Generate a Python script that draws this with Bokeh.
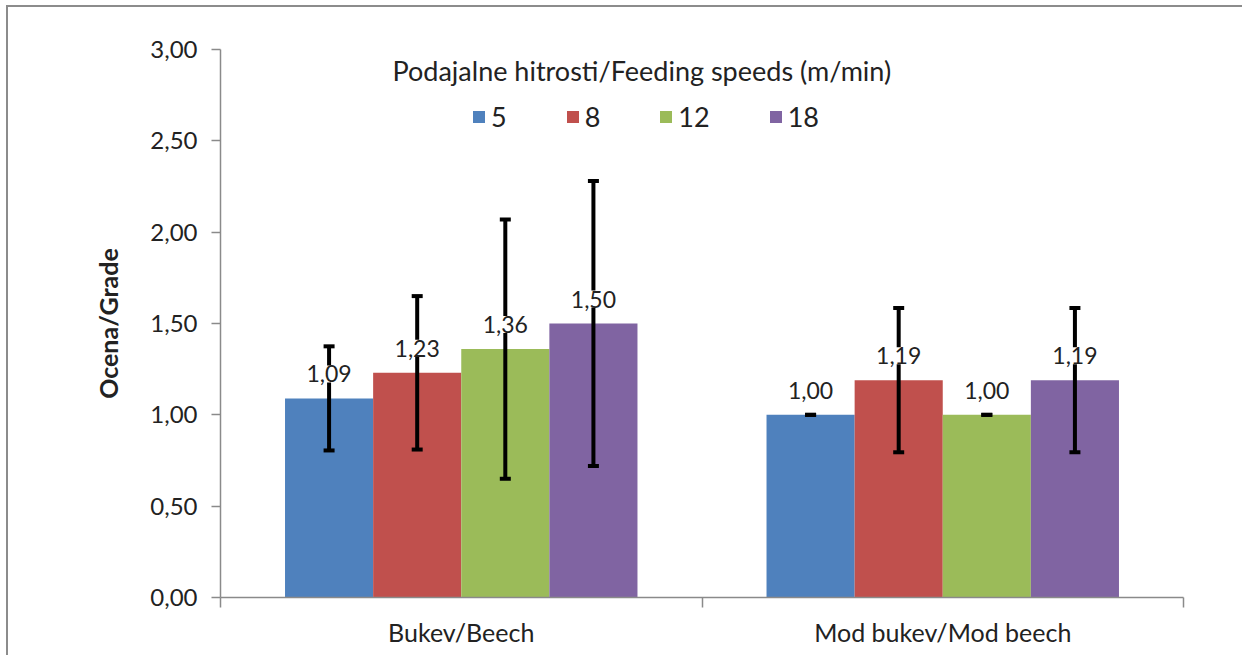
from bokeh.plotting import figure
from bokeh.models import (ColumnDataSource, Whisker, TeeHead, LabelSet, Label, Legend, LegendItem,
                          FixedTicker, CustomJSTickFormatter, Range1d, LinearAxis)
from bokeh.core.properties import value
from bokeh.embed import file_html
from bokeh.resources import INLINE

# ---- data ----
categories = ["Bukev/Beech", "Mod bukev/Mod beech"]
speeds = ["5", "8", "12", "18"]
mean_5 = [1.09, 1.00]
mean_8 = [1.23, 1.19]
mean_12 = [1.36, 1.00]
mean_18 = [1.50, 1.19]
sd_5 = [0.285, 0.0]
sd_8 = [0.42, 0.395]
sd_12 = [0.71, 0.0]
sd_18 = [0.78, 0.395]
colors = ["#4F81BD", "#C0504D", "#9BBB59", "#8064A2"]
y_ticks = [0.0, 0.5, 1.0, 1.5, 2.0, 2.5, 3.0]
legend_title = "Podajalne hitrosti/Feeding speeds (m/min)"
y_label = "Ocena/Grade"

means = [mean_5, mean_8, mean_12, mean_18]
sds = [sd_5, sd_8, sd_12, sd_18]

FONT = "Lato"
TXT = "#222222"
AX = "#8a8a8a"

n_cat = len(categories)
centers = [i + 0.5 for i in range(n_cat)]
bar_w = 0.183
n_ser = len(speeds)

p = figure(width=1236, height=650, output_backend="svg", toolbar_location=None,
           x_range=Range1d(0, n_cat), y_range=Range1d(0, 3),
           min_border_left=212, min_border_right=61, min_border_top=42, min_border_bottom=60,
           x_axis_type=None, y_axis_type=None)
p.xgrid.visible = False
p.ygrid.visible = False
p.outline_line_color = None
p.background_fill_color = "white"
p.border_fill_color = "white"
p.styles = {"margin-left": "6px", "margin-top": "5px",
            "border-top": "2px solid #8c8c8c", "border-left": "2px solid #8c8c8c"}

# y axis
yax = LinearAxis(ticker=FixedTicker(ticks=y_ticks),
                 formatter=CustomJSTickFormatter(code="return tick.toFixed(2).replace('.', ',');"))
yax.axis_line_color = AX
yax.axis_line_width = 1.5
yax.major_tick_line_color = AX
yax.major_tick_line_width = 1.5
yax.major_tick_out = 9
yax.major_tick_in = 0
yax.minor_tick_line_color = None
yax.major_label_standoff = 14
yax.major_label_text_font = FONT
yax.major_label_text_font_size = "24px"
yax.major_label_text_color = TXT
yax.axis_label = y_label
yax.axis_label_text_font = FONT
yax.axis_label_text_font_style = "bold"
yax.axis_label_text_font_size = "25px"
yax.axis_label_text_color = TXT
yax.axis_label_standoff = 24
p.add_layout(yax, "left")

# x axis
xax = LinearAxis(ticker=FixedTicker(ticks=centers, minor_ticks=list(range(n_cat + 1))),
                 formatter=CustomJSTickFormatter(args=dict(labels=categories),
                                                 code="return labels[Math.floor(tick)];"))
xax.axis_line_color = AX
xax.axis_line_width = 1.5
xax.major_tick_line_color = None
xax.major_tick_out = 10
xax.major_tick_in = 0
xax.minor_tick_line_color = AX
xax.minor_tick_line_width = 1.5
xax.minor_tick_out = 10
xax.minor_tick_in = 0
xax.major_label_standoff = 9
xax.major_label_text_font = FONT
xax.major_label_text_font_size = "25px"
xax.major_label_text_color = TXT
p.add_layout(xax, "below")

items = []
for k in range(n_ser):
    off = (k - (n_ser - 1) / 2) * bar_w
    xs = [c + off for c in centers]
    m = means[k]
    s = sds[k]
    src = ColumnDataSource(dict(
        x=xs, top=m,
        upper=[a + b for a, b in zip(m, s)],
        lower=[a - b for a, b in zip(m, s)],
        lbl=[f"{v:.2f}".replace(".", ",") for v in m],
    ))
    r = p.vbar(x="x", top="top", width=bar_w, bottom=0, source=src,
               fill_color=colors[k], line_color=None)
    items.append(LegendItem(label=speeds[k], renderers=[r]))
    w = Whisker(base="x", upper="upper", lower="lower", source=src, dimension="height",
                line_color="black", line_width=4, level="annotation",
                upper_head=TeeHead(size=11, line_width=4, line_color="black"),
                lower_head=TeeHead(size=11, line_width=4, line_color="black"))
    p.add_layout(w)
    ls = LabelSet(x="x", y="top", text="lbl", source=src, text_align="center",
                  text_baseline="bottom", y_offset=16, text_font=value(FONT),
                  text_font_size="23px", text_color=TXT,
                  background_fill_color="white", level="overlay")
    p.add_layout(ls)

p.add_layout(Label(x=0.875, y=2.885, text=legend_title, text_align="center",
                   text_baseline="middle", text_font=FONT, text_font_size="27px",
                   text_color=TXT))

legend = Legend(items=items, orientation="horizontal", location=(251, 464),
                padding=0, spacing=58, label_standoff=5, glyph_width=15, glyph_height=15,
                label_width=12, border_line_color=None, background_fill_alpha=0,
                label_text_font=FONT, label_text_font_size="27px", label_text_color=TXT)
p.add_layout(legend, "center")

open("out.html", "w").write(file_html(p, INLINE))
